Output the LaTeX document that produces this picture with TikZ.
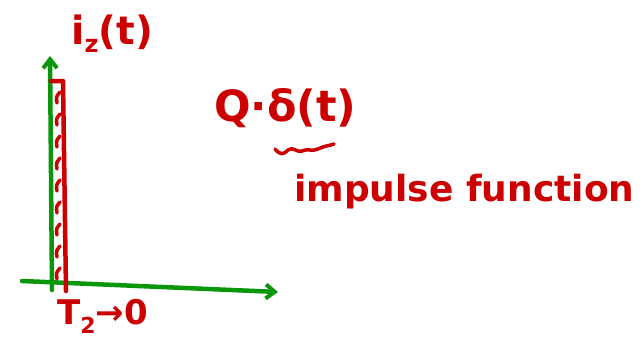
\documentclass[tikz,border=0pt]{standalone}
\usepackage{fontspec}
\setmainfont{DejaVu Sans}
\usetikzlibrary{arrows.meta}
\definecolor{pen}{HTML}{CC0000}
\definecolor{axis}{HTML}{0A960A}
\tikzset{
  axisline/.style={draw=axis,line width=4.5pt,line cap=round,-{Straight Barb[length=9pt,width=14pt,line width=4pt]}},
  redline/.style={draw=pen,line width=4.5pt,line cap=round,line join=round},
  hatch/.style={draw=pen,line width=3.5pt,line cap=round},
  lab/.style={text=pen,inner sep=0pt,anchor=west}
}
\begin{document}
\begin{tikzpicture}[x=1pt,y=-1pt]
\useasboundingbox (0,0) rectangle (644,340);
% axes
\coordinate (o) at (52,290);
\coordinate (ytop) at (50,56);
\coordinate (xl) at (22,281);
\coordinate (xr) at (278,292);
\draw[axisline] (o) -- (ytop);
\draw[axisline] (xl) -- (xr);
% pulse rectangle
\coordinate (p1) at (51,81);
\coordinate (p2) at (63,81);
\coordinate (p3) at (66,291);
\draw[redline] (p1) -- (p2) -- (p3);
\foreach \y in {92,114,136,158,180,202,224,246,268}
  \draw[hatch] (57,\y+11) .. controls (56,\y+5) .. (60,\y);
% labels
\node[lab,font=\bfseries\fontsize{39}{39}\selectfont] (iz) at (71,34) {i\raisebox{-8pt}{\fontsize{24}{24}\selectfont z}(t)};
\node[lab,font=\bfseries\fontsize{43}{43}\selectfont] (q) at (214,108) {Q·δ(t)};
\draw[hatch] (275,149) .. controls (280,155) and (283,155) .. (288,150) .. controls (293,146) and (297,153) .. (302,151) .. controls (308,148) and (312,152) .. (318,149) .. controls (324,146) and (328,146) .. (334,144);
\node[lab,font=\bfseries\fontsize{36}{36}\selectfont] (imp) at (294,192) {impulse function};
\node[lab,font=\bfseries\fontsize{34}{34}\selectfont] (t2) at (57,316) {T\raisebox{-9pt}{\fontsize{22}{22}\selectfont 2}→0};
\end{tikzpicture}
\end{document}
